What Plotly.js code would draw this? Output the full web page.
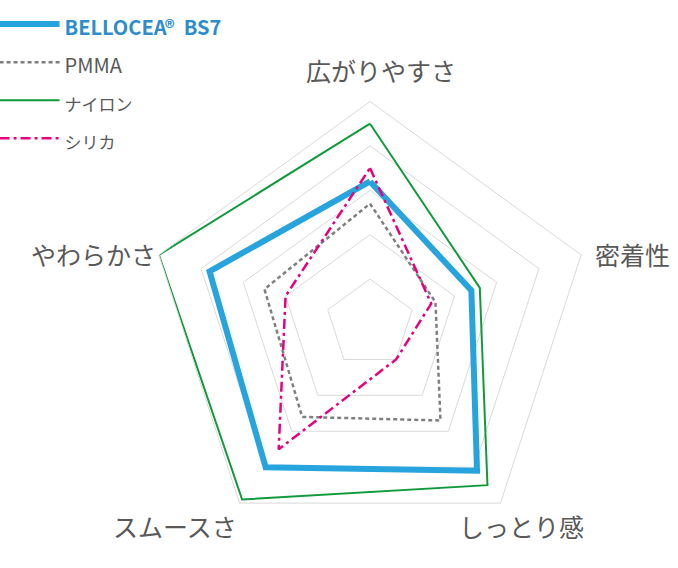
<!DOCTYPE html>
<html>
<head>
<meta charset="utf-8">
<script src="https://cdn.plot.ly/plotly-3.0.1.min.js"></script>
<style>
  html, body { margin: 0; padding: 0; background: #fff; }
  #chart { width: 678px; height: 568px; }
</style>
</head>
<body>
<div id="chart"></div>
<script>
// axes, clockwise from the top
var categories = ["広がりやすさ", "密着性", "しっとり感", "スムースさ", "やわらかさ"];

var seriesNames = ["BELLOCEA®  BS7", "PMMA", "ナイロン", "シリカ"];
var bellocea = [3.2, 2.4, 4.1, 4.0, 3.8];
var pmma     = [2.7, 1.55, 2.7, 2.6, 2.5];
var nylon    = [4.5, 2.6, 4.5, 4.9, 5.0];
var silica   = [3.5, 1.45, 1.0, 3.5, 2.0];

// where the category labels sit (paper coords)
var labelX = [0.562, 0.9336, 0.7699, 0.2581, 0.1386];
var labelY = [0.8768, 0.5528, 0.0739, 0.0739, 0.5528];

function closed(a) { return a.concat([a[0]]); }

var styles = [
  { color: "#27a4dd", width: 6, dash: "solid" },
  { color: "#7f7f7f", width: 2.5, dash: "4px,3px" },
  { color: "#119a3c", width: 2, dash: "solid" },
  { color: "#e6007e", width: 2.5, dash: "10px,4px,3px,4px" }
];
// legend text sizes differ per entry in the original
var legendSize = [20, 20, 17, 17];

var values = [bellocea, pmma, nylon, silica];
var data = values.map(function (v, i) {
  var label = '<span style="font-size:' + legendSize[i] + 'px">' + seriesNames[i] + '</span>';
  if (i === 0) label = '<b><span style="font-size:20px;fill:#2d8ccc">' + seriesNames[i] + '</span></b>';
  return {
    type: "scatterpolar",
    r: closed(v),
    theta: closed(categories),
    mode: "lines",
    name: label,
    line: styles[i],
    hoverinfo: "skip"
  };
});

var annotations = categories.map(function (c, i) {
  return {
    text: c, x: labelX[i], y: labelY[i], xref: "paper", yref: "paper",
    xanchor: "center", yanchor: "middle", showarrow: false,
    font: { size: 25, color: "#595959", family: "Noto Sans CJK JP" }
  };
});

var layout = {
  width: 678,
  height: 568,
  margin: { t: 0, b: 0, l: 0, r: 0, autoexpand: false },
  paper_bgcolor: "white",
  font: { family: "Noto Sans CJK JP", color: "#595959" },
  showlegend: true,
  legend: {
    x: -0.008, y: 1.0, xanchor: "left", yanchor: "top",
    font: { size: 27, color: "#595959", family: "Noto Sans CJK JP" },
    itemwidth: 60, bgcolor: "rgba(0,0,0,0)"
  },
  polar: {
    domain: { x: [0.2183, 0.8732], y: [0.0396, 0.8213] },
    bgcolor: "white",
    gridshape: "linear",
    radialaxis: {
      range: [0, 5], tick0: 0, dtick: 1, showticklabels: false, ticks: "",
      showline: false, gridcolor: "#d9d9d9", gridwidth: 1
    },
    angularaxis: {
      rotation: 90, direction: "clockwise", showgrid: false,
      showticklabels: false, ticks: "", showline: true,
      linecolor: "#d9d9d9", linewidth: 1
    }
  },
  annotations: annotations
};

Plotly.newPlot("chart", data, layout, { displayModeBar: false, staticPlot: true });
</script>
</body>
</html>
